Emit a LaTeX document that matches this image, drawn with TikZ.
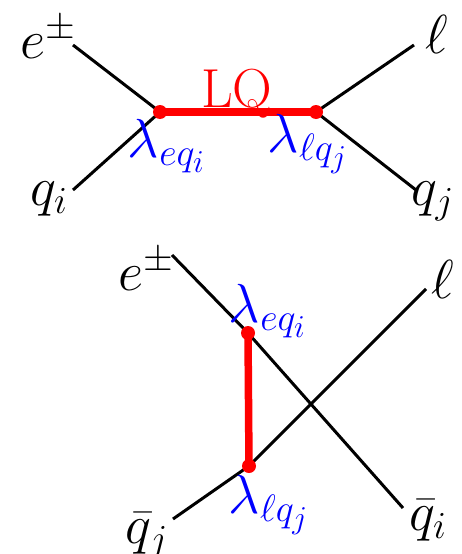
\documentclass[tikz,border=0pt]{standalone}
\DeclareMathSizes{24.88}{24.88}{17.28}{14.4}
\begin{document}
\begin{tikzpicture}[x=1pt,y=-1pt,
  lep/.style={line width=3pt, black},
  lqline/.style={line width=7.5pt, red},
  vtx/.style={circle, fill=red, inner sep=0pt, minimum size=14pt},
  lbl/.style={inner sep=0pt, anchor=base, scale=2.21, font=\Huge},
  cpl/.style={lbl, text=blue},
]
\useasboundingbox (0,0) rectangle (462,554);
% ---------- top diagram ----------
\coordinate (v1) at (160,112);
\coordinate (v2) at (316,112);
\coordinate (ea) at (73,45);
\coordinate (qia) at (73,190);
\coordinate (la) at (414,45);
\coordinate (qja) at (416,190);
\draw[lep] (ea) -- (v1) -- (qia);
\draw[lep] (la) -- (v2) -- (qja);
\draw[lqline] (v1) -- (v2);
\node[vtx] (d1) at (v1) {};
\node[vtx] (d2) at (v2) {};
\node[lbl] (te) at (48,58) {$e^{\pm}$};
\node[lbl] (tqi) at (49,205) {$q_i$};
\node[lbl] (tl) at (437,53) {$\ell$};
\node[lbl] (tqj) at (433,205) {$q_j$};
\node[lbl, text=red] (tlq) at (237,107) {$\mathrm{LQ}$};
\node[cpl] (tc1) at (167,157) {$\lambda_{eq_i}$};
\node[cpl] (tc2) at (308,152) {$\lambda_{\ell q_j}$};
% ---------- bottom diagram ----------
\coordinate (w1) at (248,333);
\coordinate (w2) at (249,466);
\coordinate (eb) at (172,255);
\coordinate (qib) at (403,508);
\coordinate (lb) at (426,289);
\coordinate (qjb) at (173,519);
\draw[lep] (eb) -- (w1) -- (qib);
\draw[lep] (lb) -- (w2) -- (qjb);
\draw[lqline] (w1) -- (w2);
\node[vtx] (d3) at (w1) {};
\node[vtx] (d4) at (w2) {};
\node[lbl] (be) at (146,290) {$e^{\pm}$};
\node[lbl] (bl) at (443,298) {$\ell$};
\node[lbl] (bqj) at (147,543) {$\bar{q}_j$};
\node[lbl] (bqi) at (428,530) {$\bar{q}_i$};
\node[cpl] (bc1) at (268,322) {$\lambda_{eq_i}$};
\node[cpl] (bc2) at (269,513) {$\lambda_{\ell q_j}$};
\end{tikzpicture}
\end{document}
